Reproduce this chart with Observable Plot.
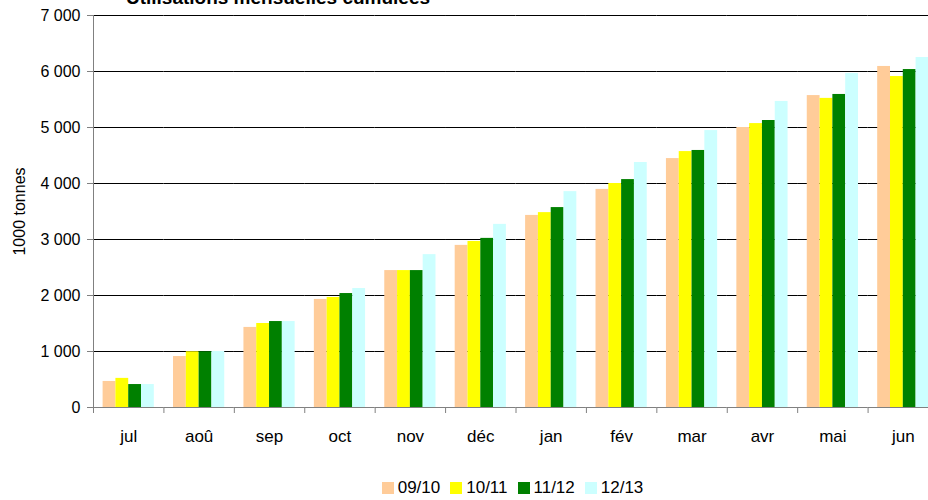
<!DOCTYPE html>
<html>
<head>
<meta charset="utf-8">
<script src="https://cdn.jsdelivr.net/npm/d3@7"></script>
<script src="https://cdn.jsdelivr.net/npm/@observablehq/plot@0.6"></script>
<style>
  html, body { margin: 0; padding: 0; background: white; overflow: hidden; }
  body { font-family: "Liberation Sans", Arial, sans-serif; width: 928px; }
  #title { position: relative; height: 0; }
  #title span { position: absolute; left: 278px; bottom: -7px; transform: translateX(-50%);
    font-weight: bold; font-size: 19px; line-height: 1; white-space: nowrap; color: black; }
  #legend { margin-left: 90px; width: 845px; display: flex; justify-content: center; align-items: center;
    height: 20px; font-size: 17px; line-height: 20px; color: black; }
  #legend .item { display: flex; align-items: center; margin: 0 5px; }
  #legend .sw { width: 12px; height: 12px; margin-right: 4px; }
</style>
</head>
<body>
<div id="title"><span>Utilisations mensuelles cumulées</span></div>
<div id="chart"></div>
<div id="legend"></div>
<script>
const months = ["jul", "aoû", "sep", "oct", "nov", "déc", "jan", "fév", "mar", "avr", "mai", "jun"];
const seriesNames = ["09/10", "10/11", "11/12", "12/13"];
const seriesColors = ["#FFCC99", "#FFFF00", "#008000", "#CCFFFF"];
const s0910 = [465, 910, 1430, 1930, 2445, 2895, 3430, 3895, 4445, 5000, 5570, 6090];
const s1011 = [520, 995, 1500, 1965, 2445, 2965, 3480, 4000, 4570, 5070, 5520, 5910];
const s1112 = [410, 995, 1535, 2035, 2445, 3020, 3570, 4070, 4590, 5125, 5590, 6035];
const s1213 = [410, 1000, 1535, 2125, 2730, 3270, 3855, 4375, 4945, 5465, 5965, 6250];
const yTicks = [0, 1000, 2000, 3000, 4000, 5000, 6000, 7000];
const yLabel = "1000 tonnes";

const seriesValues = [s0910, s1011, s1112, s1213];
const data = [];
months.forEach((m, i) => seriesNames.forEach((s, j) => data.push({month: m, series: s, value: seriesValues[j][i]})));

const fr = d3.formatLocale({decimal: ",", thousands: " ", grouping: [3], currency: ["", " €"]});
const fmt = fr.format(",");

const W = 938, H = 478, ML = 93, MR = 0, MT = 15, MB = 71;
const bw = (W - ML - MR) / months.length;

const chart = Plot.plot({
  width: W,
  height: H,
  marginLeft: ML,
  marginRight: MR,
  marginTop: MT,
  marginBottom: MB,
  style: {maxWidth: "none", fontFamily: "'Liberation Sans', Arial, sans-serif", fontSize: "16px", background: "white"},
  fx: {domain: months, padding: 0, round: false},
  x: {domain: seriesNames, paddingInner: 0, paddingOuter: 0.75, round: false, axis: null},
  y: {domain: [0, 7000]},
  color: {domain: seriesNames, range: seriesColors},
  marks: [
    Plot.gridY(yTicks.filter(d => d > 0), {stroke: "black", strokeOpacity: 1}),
    Plot.barY(data, {fx: "month", x: "series", y: "value", fill: "series"}),
    Plot.ruleY([0], {stroke: "#808080"}),
    Plot.frame({anchor: "left", stroke: "#808080", facetAnchor: "left"}),
    Plot.axisY({ticks: yTicks, tickFormat: fmt, tickSize: 6, tickPadding: 7, fontSize: 16,
      stroke: "#808080", fill: "black", label: yLabel, labelAnchor: "center", labelOffset: 80, labelArrow: "none"}),
    Plot.axisFx({anchor: "bottom", tickSize: 6, tickFormat: () => "", dx: -bw / 2, stroke: "#808080", label: null}),
    Plot.axisFx({anchor: "bottom", tickSize: 0, tickPadding: 22, fontSize: 17, fill: "black", label: null})
  ]
});
document.getElementById("chart").appendChild(chart);

const legend = document.getElementById("legend");
seriesNames.forEach((s, i) => {
  const item = document.createElement("div");
  item.className = "item";
  const sw = document.createElement("div");
  sw.className = "sw";
  sw.style.background = seriesColors[i];
  const t = document.createElement("span");
  t.textContent = s;
  item.appendChild(sw);
  item.appendChild(t);
  legend.appendChild(item);
});
</script>
</body>
</html>
